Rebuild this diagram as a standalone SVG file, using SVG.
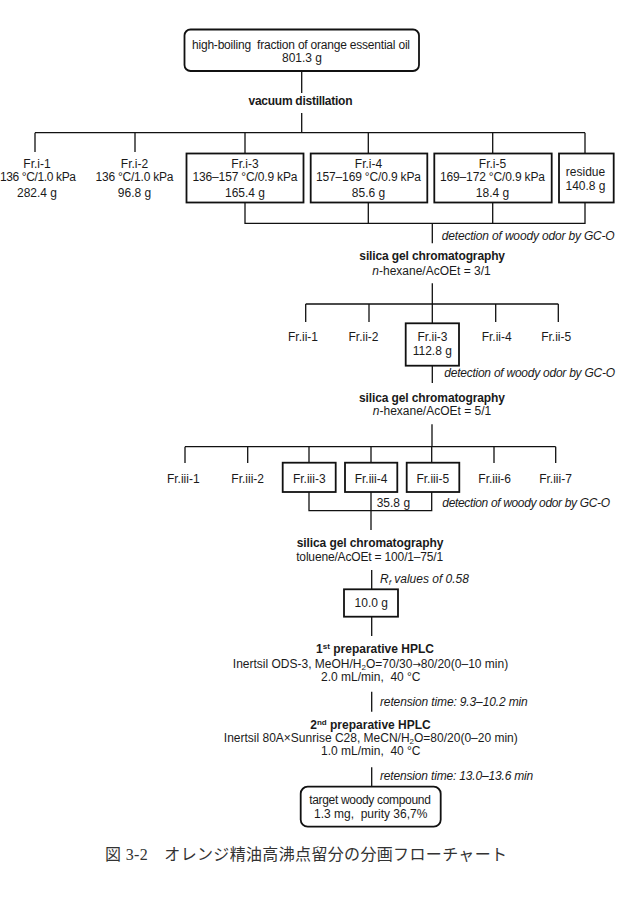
<svg xmlns="http://www.w3.org/2000/svg" width="617" height="916" viewBox="0 0 617 916">
<style>
.t{font-family:"Liberation Sans",Arial,sans-serif;font-size:12px;fill:#1a1a1a}
.m{text-anchor:middle}
.b{font-weight:bold}
.i{font-style:italic}
.sub{font-size:8px;baseline-shift:-1.5px}
.sup{font-size:8px;baseline-shift:4px}
.arr{font-family:"DejaVu Sans",sans-serif;font-size:10px}
.box{fill:#fff;stroke:#111;stroke-width:1.8}
.ln{fill:none;stroke:#111;stroke-width:1.3}
.cap{font-family:"Liberation Serif","Noto Sans CJK JP",serif;font-size:16px;fill:#333}
</style>
<rect width="617" height="916" fill="#fff"/>
<g id="connectors" class="ln">
<path d="M301.7,71V93M301.7,113V132.7M35,132.7H585M35,132.7V152M135,132.7V152M245,132.7V153.3M368.3,132.7V153.3M492.7,132.7V153.3M585,132.7V153.3"/>
<path d="M245,203V223.3H585V203M368.3,203V223.3M492.7,203V223.3M432.3,223.3V243.3"/>
<path d="M432.3,283.3V304M305.7,304H558.3M305.7,304V322M369,304V322M432.3,304V323.3M495.7,304V322M558.3,304V322"/>
<path d="M432.3,365.7V383M432,424.3V446.7M185,446.7H555.7M185,446.7V463M247.7,446.7V463M309,446.7V462.7M371,446.7V462.7M431.7,446.7V462.7M494,446.7V463M555.7,446.7V463"/>
<path d="M309,492V510.7H431.7V492M371,492V530"/>
<path d="M371.7,570V589.3M371.7,616.7V636M371.7,691.7V711.7M371.7,767.3V786.7"/>
</g>
<g id="source">
<rect class="box" x="184.5" y="29.5" width="234.5" height="41.5" rx="6"/>
<text class="t m" x="301" y="49" textLength="218">high-boiling&#160; fraction of orange essential oil</text>
<text class="t m" x="302" y="62">801.3 g</text>
</g>
<g id="step-vacuum-distillation">
<text class="t m b" x="300.5" y="105" textLength="104">vacuum distillation</text>
</g>
<g id="fr-i-1">
<text class="t m" x="37" y="168">Fr.i-1</text>
<text class="t m" x="38" y="180.7" textLength="76">136 °C/1.0 kPa</text>
<text class="t m" x="37" y="196.7">282.4 g</text>
</g>
<g id="fr-i-2">
<text class="t m" x="134.5" y="168">Fr.i-2</text>
<text class="t m" x="134.5" y="180.7" textLength="78">136 °C/1.0 kPa</text>
<text class="t m" x="134.5" y="196.7">96.8 g</text>
</g>
<g id="fr-i-3">
<rect class="box" x="186.5" y="153.5" width="117" height="49"/>
<text class="t m" x="245" y="168">Fr.i-3</text>
<text class="t m" x="245" y="180.7" textLength="105">136–157 °C/0.9 kPa</text>
<text class="t m" x="245" y="196.7">165.4 g</text>
</g>
<g id="fr-i-4">
<rect class="box" x="310.7" y="153.5" width="116.6" height="49"/>
<text class="t m" x="368.5" y="168">Fr.i-4</text>
<text class="t m" x="368.5" y="180.7" textLength="105">157–169 °C/0.9 kPa</text>
<text class="t m" x="368.5" y="196.7">85.6 g</text>
</g>
<g id="fr-i-5">
<rect class="box" x="434.3" y="153.5" width="117.4" height="49"/>
<text class="t m" x="492.5" y="168">Fr.i-5</text>
<text class="t m" x="492.5" y="180.7" textLength="105">169–172 °C/0.9 kPa</text>
<text class="t m" x="492.5" y="196.7">18.4 g</text>
</g>
<g id="residue">
<rect class="box" x="559" y="153.5" width="54.7" height="49"/>
<text class="t m" x="585.5" y="175.7">residue</text>
<text class="t m" x="585.5" y="189.7">140.8 g</text>
</g>
<g id="note-gco-1">
<text class="t i" x="441.7" y="239.7" textLength="173">detection of woody odor by GC-O</text>
</g>
<g id="step-silica-1">
<text class="t m b" x="432.2" y="260" textLength="145.7">silica gel chromatography</text>
<text class="t m" x="431.5" y="275"><tspan class="i">n</tspan>-hexane/AcOEt = 3/1</text>
</g>
<g id="fr-ii-1"><text class="t m" x="303" y="340.7">Fr.ii-1</text></g>
<g id="fr-ii-2"><text class="t m" x="363.5" y="340.7">Fr.ii-2</text></g>
<g id="fr-ii-3">
<rect class="box" x="405.7" y="323.3" width="53.3" height="42.4"/>
<text class="t m" x="432.5" y="340.7">Fr.ii-3</text>
<text class="t m" x="432.3" y="355">112.8 g</text>
</g>
<g id="fr-ii-4"><text class="t m" x="496.7" y="340.7">Fr.ii-4</text></g>
<g id="fr-ii-5"><text class="t m" x="556.2" y="340.7">Fr.ii-5</text></g>
<g id="note-gco-2">
<text class="t i" x="444.3" y="377.3" textLength="170.7">detection of woody odor by GC-O</text>
</g>
<g id="step-silica-2">
<text class="t m b" x="432" y="402.3" textLength="146">silica gel chromatography</text>
<text class="t m" x="432" y="415"><tspan class="i">n</tspan>-hexane/AcOEt = 5/1</text>
</g>
<g id="fr-iii-1"><text class="t m" x="183.3" y="483.3">Fr.iii-1</text></g>
<g id="fr-iii-2"><text class="t m" x="247.7" y="483.3">Fr.iii-2</text></g>
<g id="fr-iii-3">
<rect class="box" x="282.7" y="462.7" width="53" height="29.3"/>
<text class="t m" x="309.3" y="483.3">Fr.iii-3</text>
</g>
<g id="fr-iii-4">
<rect class="box" x="345" y="462.7" width="52.3" height="29.3"/>
<text class="t m" x="371" y="483.3">Fr.iii-4</text>
</g>
<g id="fr-iii-5">
<rect class="box" x="406.7" y="462.7" width="52.6" height="29.3"/>
<text class="t m" x="432.8" y="483.3">Fr.iii-5</text>
</g>
<g id="fr-iii-6"><text class="t m" x="494.7" y="483.3">Fr.iii-6</text></g>
<g id="fr-iii-7"><text class="t m" x="555.5" y="483.3">Fr.iii-7</text></g>
<g id="combined-mass">
<text class="t" x="376.7" y="506.7">35.8 g</text>
</g>
<g id="note-gco-3">
<text class="t i" x="442.3" y="506.7" textLength="167.7">detection of woody odor by GC-O</text>
</g>
<g id="step-silica-3">
<text class="t m b" x="370" y="547.3" textLength="146.7">silica gel chromatography</text>
<text class="t m" x="369.7" y="560.7" textLength="147">toluene/AcOEt = 100/1–75/1</text>
</g>
<g id="note-rf">
<text class="t i" x="380" y="582.7">R<tspan class="sub">f</tspan> values of 0.58</text>
</g>
<g id="fraction-10g">
<rect class="box" x="344" y="589.3" width="54" height="27.4"/>
<text class="t m" x="371.3" y="607.3">10.0 g</text>
</g>
<g id="step-hplc-1">
<text class="t m b" x="375" y="653.3">1<tspan class="sup">st</tspan> preparative HPLC</text>
<text class="t m" x="370.5" y="668">Inertsil ODS-3, MeOH/H<tspan class="sub">2</tspan>O=70/30<tspan class="arr">→</tspan>80/20(0–10 min)</text>
<text class="t m" x="370.8" y="681">2.0 mL/min,&#160; 40 °C</text>
</g>
<g id="note-rt-1">
<text class="t i" x="380" y="705.7" textLength="147.7">retension time: 9.3–10.2 min</text>
</g>
<g id="step-hplc-2">
<text class="t m b" x="370.5" y="729">2<tspan class="sup">nd</tspan> preparative HPLC</text>
<text class="t m" x="370.8" y="742.3">Inertsil 80A×Sunrise C28, MeCN/H<tspan class="sub">2</tspan>O=80/20(0–20 min)</text>
<text class="t m" x="370.8" y="755.3">1.0 mL/min,&#160; 40 °C</text>
</g>
<g id="note-rt-2">
<text class="t i" x="380" y="779.7" textLength="153.3">retension time: 13.0–13.6 min</text>
</g>
<g id="target">
<rect class="box" x="300.7" y="786.7" width="140" height="40" rx="7"/>
<text class="t m" x="370" y="804" textLength="121.7">target woody compound</text>
<text class="t m" x="370.7" y="818">1.3 mg,&#160; purity 36,7%</text>
</g>
<g id="caption">
<text class="cap" x="105" y="860" textLength="402">図 3-2　オレンジ精油高沸点留分の分画フローチャート</text>
</g>
</svg>
